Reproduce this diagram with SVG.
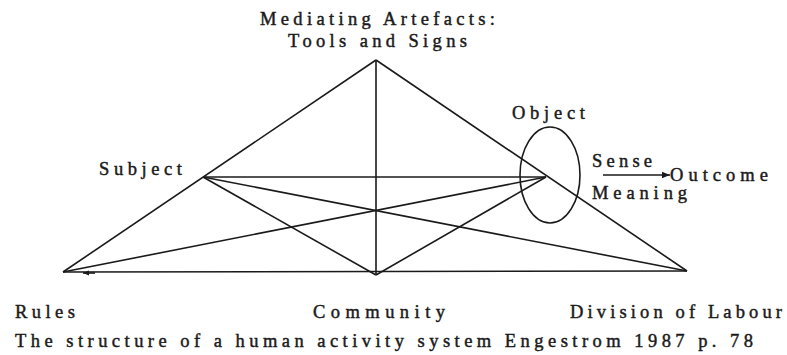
<svg xmlns="http://www.w3.org/2000/svg" width="787" height="355" viewBox="0 0 787 355">
<style>
.t{font-family:"Liberation Serif","Times New Roman",serif;font-size:18.5px;fill:#1a1a1a;stroke:#1a1a1a;stroke-width:0.45}
.c line,.c ellipse{stroke:#1a1a1a;stroke-width:1.6;fill:none}
</style>
<defs>
<marker id="ah" viewBox="0 0 10 10" refX="10" refY="5" markerWidth="6" markerHeight="6" orient="auto" markerUnits="userSpaceOnUse">
<path d="M0,1 L10,5 L0,9 Z" fill="#1a1a1a"/>
</marker>
<marker id="ah2" viewBox="0 0 10 10" refX="10" refY="5" markerWidth="10" markerHeight="8" orient="auto" markerUnits="userSpaceOnUse">
<path d="M0,1 L10,5 L0,9 Z" fill="#1a1a1a"/>
</marker>
</defs>
<rect width="787" height="355" fill="#fff"/>
<g class="c" id="connectors">
<line x1="63" y1="272" x2="376" y2="60"/>
<line x1="376" y1="60" x2="687" y2="271"/>
<line x1="376" y1="60" x2="376" y2="275"/>
<line x1="63" y1="272" x2="687" y2="271"/>
<line x1="203" y1="177" x2="546" y2="177"/>
<line x1="203" y1="177" x2="376" y2="275"/>
<line x1="376" y1="275" x2="546" y2="177"/>
<line x1="203" y1="177" x2="687" y2="271"/>
<line x1="63" y1="272" x2="546" y2="177"/>
<line x1="95" y1="273" x2="83" y2="273" marker-end="url(#ah)"/>
<line x1="603" y1="175" x2="670" y2="175" marker-end="url(#ah2)"/>
</g>
<g id="object"><ellipse class="c" cx="550" cy="175" rx="30" ry="48" style="stroke:#1a1a1a;stroke-width:1.6;fill:none"/>
<text class="t" x="512" y="119" textLength="73" lengthAdjust="spacing">Object</text></g>
<g id="tools"><text class="t" x="260" y="25" textLength="235" lengthAdjust="spacing">Mediating Artefacts:</text>
<text class="t" x="288" y="47" textLength="179" lengthAdjust="spacing">Tools and Signs</text></g>
<g id="subject"><text class="t" x="99" y="175" textLength="83" lengthAdjust="spacing">Subject</text></g>
<g id="sense"><text class="t" x="592" y="167" textLength="60" lengthAdjust="spacing">Sense</text>
<text class="t" x="592" y="199" textLength="95" lengthAdjust="spacing">Meaning</text></g>
<g id="outcome"><text class="t" x="670" y="181" textLength="98" lengthAdjust="spacing">Outcome</text></g>
<g id="rules"><text class="t" x="15" y="318" textLength="60" lengthAdjust="spacing">Rules</text></g>
<g id="community"><text class="t" x="313" y="318" textLength="132" lengthAdjust="spacing">Community</text></g>
<g id="division"><text class="t" x="570" y="318" textLength="212" lengthAdjust="spacing">Division of Labour</text></g>
<g id="caption"><text class="t" x="15" y="347" textLength="738" lengthAdjust="spacing">The structure of a human activity system Engestrom 1987 p. 78</text></g>
</svg>
